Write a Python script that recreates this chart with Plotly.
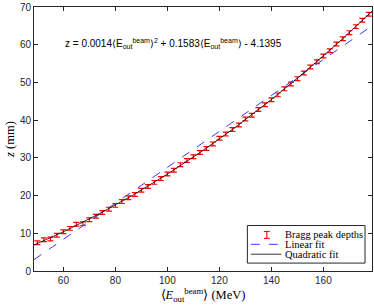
import plotly.graph_objects as go
import numpy as np

# ---- data ----
energy_mev = [50, 52.5, 55, 57.5, 60, 62.5, 65, 67.5, 70, 72.5, 75, 77.5, 80, 82.5, 85, 87.5,
              90, 92.5, 95, 97.5, 100, 102.5, 105, 107.5, 110, 112.5, 115, 117.5, 120, 122.5,
              125, 127.5, 130, 132.5, 135, 137.5, 140, 142.5, 145, 147.5, 150, 152.5, 155,
              157.5, 160, 162.5, 165, 167.5, 170, 172.5, 175, 177.5]
depth_mm = [7.5, 8.3, 8.5, 9.5, 10.4, 11.3, 12.4, 12.5, 13.6, 14.5, 15.5, 16.4, 17.4, 18.4,
            19.4, 20.3, 21.4, 22.4, 23.5, 24.5, 25.7, 26.7, 28.2, 29.3, 30.3, 31.4, 32.5,
            33.7, 35.2, 36.3, 37.5, 38.7, 40.3, 41.3, 42.8, 44.1, 45.4, 46.7, 48.3, 49.6,
            51.0, 52.5, 54.1, 55.5, 57.0, 58.4, 60.2, 61.6, 63.2, 64.8, 66.5, 68.1]
depth_err = [0.5] * len(energy_mev)

quad_coef = [0.0014, 0.1583, -4.1395]   # from the annotation
lin_coef = [0.4768, -20.2]              # estimated linear fit

x_range = [48.7, 178.7]
y_range = [0, 70]
x_ticks = [60, 80, 100, 120, 140, 160]
y_ticks = [0, 10, 20, 30, 40, 50, 60, 70]

legend_labels = ["Bragg peak depths", "Linear fit", "Quadratic fit"]

fit_x = np.linspace(x_range[0], x_range[1], 300)
lin_y = np.polyval(lin_coef, fit_x)
quad_y = np.polyval(quad_coef, fit_x)

SANS = "Liberation Sans, Arial, sans-serif"
SERIF = "Liberation Serif, Times New Roman, serif"
AX = "#262626"
RED = "#ff0000"
BLUE = "#3a3aff"

W, H = 374, 305
ML, MR, MT, MB = 34, 1, 4, 34
PW, PH = W - ML - MR, H - MT - MB


def px(xp):
    return (xp - ML) / PW


def py(yp):
    return (H - MB - yp) / PH


fig = go.Figure()
fig.add_trace(go.Scatter(
    x=energy_mev, y=depth_mm, mode="markers", name=legend_labels[0], showlegend=False,
    marker=dict(size=1, color=RED, opacity=0),
    error_y=dict(type="data", array=depth_err, visible=True, color=RED, thickness=1.2, width=3),
))
fig.add_trace(go.Scatter(
    x=fit_x, y=lin_y, mode="lines", name=legend_labels[1], showlegend=False,
    line=dict(color=BLUE, width=1, dash="dash"),
))
fig.add_trace(go.Scatter(
    x=fit_x, y=quad_y, mode="lines", name=legend_labels[2], showlegend=False,
    line=dict(color="black", width=0.8),
))

fig.add_annotation(
    x=102.5, y=60.2, xref="x", yref="y", showarrow=False,
    text="z = 0.0014⟨E<sub>out</sub><sup>beam</sup>⟩<sup>2</sup> + 0.1583⟨E<sub>out</sub><sup>beam</sup>⟩ - 4.1395",
    font=dict(family=SANS, size=10, color="black"),
)

# ---- custom legend (MATLAB style) ----
shapes = []
shapes.append(dict(type="rect", xref="paper", yref="paper",
                   x0=px(248), x1=px(366), y0=py(263), y1=py(225),
                   line=dict(color=AX, width=1), fillcolor="white", layer="above"))
# errorbar icon
ex = 267.5
shapes.append(dict(type="line", xref="paper", yref="paper", x0=px(ex), x1=px(ex),
                   y0=py(238), y1=py(231), line=dict(color=RED, width=1.1), layer="above"))
for yy in (231, 238):
    shapes.append(dict(type="line", xref="paper", yref="paper", x0=px(ex - 3), x1=px(ex + 3),
                       y0=py(yy), y1=py(yy), line=dict(color=RED, width=1.1), layer="above"))
shapes.append(dict(type="line", xref="paper", yref="paper", x0=px(251.5), x1=px(282),
                   y0=py(244), y1=py(244), line=dict(color=BLUE, width=1, dash="dash"),
                   layer="above"))
shapes.append(dict(type="line", xref="paper", yref="paper", x0=px(251.5), x1=px(282),
                   y0=py(254), y1=py(254), line=dict(color="black", width=0.8), layer="above"))
for lbl, yy in zip(legend_labels, (234.5, 244, 254)):
    fig.add_annotation(x=px(284), y=py(yy), xref="paper", yref="paper", text=lbl,
                       showarrow=False, xanchor="left", yanchor="middle",
                       font=dict(family=SERIF, size=10.5, color="black"))

axis_common = dict(
    showline=True, linecolor=AX, linewidth=1, mirror="ticks",
    ticks="inside", ticklen=4, tickcolor=AX, tickwidth=1,
    showgrid=False, zeroline=False, ticklabeloverflow="allow",
    tickfont=dict(family=SANS, size=10, color=AX),
)
fig.update_xaxes(range=x_range, tickvals=x_ticks, **axis_common,
                 title=dict(text="⟨<i>E</i><sub>out</sub><sup>beam</sup>⟩ (MeV)",
                            font=dict(family=SERIF, size=12.5, color="black"), standoff=3))
fig.update_yaxes(range=y_range, tickvals=y_ticks, **axis_common,
                 title=dict(text="<i>z</i> (mm)",
                            font=dict(family=SERIF, size=12.5, color="black"), standoff=2))

fig.update_layout(
    width=W, height=H,
    margin=dict(l=ML, r=MR, t=MT, b=MB),
    paper_bgcolor="white", plot_bgcolor="white",
    showlegend=False,
    shapes=shapes,
)

fig.write_html("out.html", config={"displayModeBar": False},
               post_script="document.body.style.margin='0';")
